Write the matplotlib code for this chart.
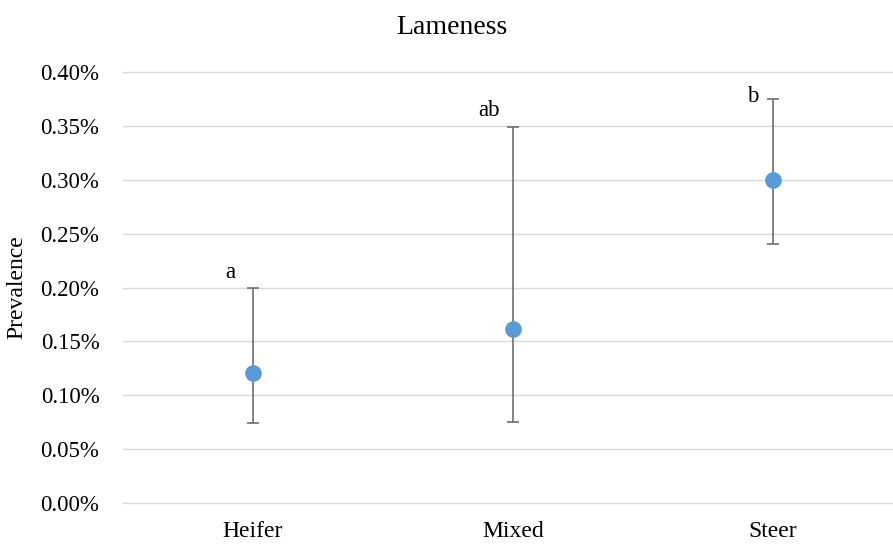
import matplotlib
matplotlib.use("Agg")
import matplotlib.pyplot as plt

# prevalence (%)
groups = ["Heifer", "Mixed", "Steer"]
prev = [0.121, 0.1615, 0.300]
upper = [0.200, 0.349, 0.375]
lower = [0.074, 0.075, 0.240]
letters = ["a", "ab", "b"]
yticks = [0.00, 0.05, 0.10, 0.15, 0.20, 0.25, 0.30, 0.35, 0.40]

plt.rcParams['font.family'] = ['Liberation Serif', 'DejaVu Serif']

fig = plt.figure(figsize=(8.93, 5.44), dpi=100)
ax = fig.add_axes([123/893, 1 - 503/544, 1 - 123/893, (503 - 72)/544])

x = list(range(len(groups)))
err_lo = [p - l for p, l in zip(prev, lower)]
err_hi = [u - p for p, u in zip(prev, upper)]
ax.errorbar(x, prev, yerr=[err_lo, err_hi], fmt='o', color='#5B9BD5',
            ms=11, ecolor='#6E6E6E', elinewidth=1.2, capsize=4.6,
            capthick=1.2, zorder=3)

# significance letters, placed by hand like the original
offsets = [(-16, 10.5), (-17, 12), (-14.4, 1.5)]
for xi, u, lab, off in zip(x, upper, letters, offsets):
    ax.annotate(lab, (xi, u), xytext=off, textcoords='offset points',
                ha='center', va='center', fontsize=16.5)

ax.set_ylim(0, 0.40)
ax.set_xlim(-0.5, -0.5 + 770/260)
ax.set_yticks(yticks)
ax.set_yticklabels([f"{t:.2f}%" for t in yticks], fontsize=16.5)
ax.set_xticks(x)
ax.set_xticklabels(groups, fontsize=17)
ax.tick_params(length=0)
ax.tick_params(axis='y', pad=17)
ax.tick_params(axis='x', pad=13)
ax.yaxis.grid(True, color='#D9D9D9', lw=1.0)
for gl in ax.get_ygridlines():
    gl.set_clip_on(False)
ax.set_axisbelow(True)
for s in ax.spines.values():
    s.set_visible(False)

ax.set_ylabel("Prevalence", fontsize=17)
ax.yaxis.set_label_coords((31 - 123)/739, (503 - 287)/431)
fig.text(451.5/893, 1 - 28/544, "Lameness", ha='center', va='center', fontsize=20)

fig.savefig("out.png", dpi=100)
